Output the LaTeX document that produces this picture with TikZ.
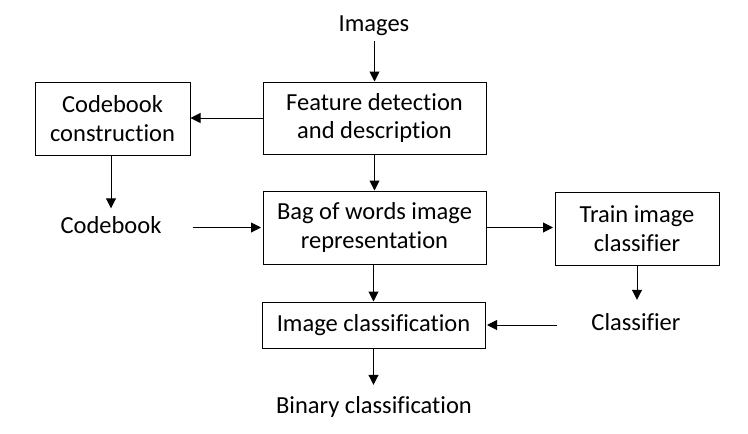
\documentclass[tikz,border=0pt]{standalone}
\usepackage{fontspec}
\setmainfont{Carlito}[Ligatures={NoCommon}]
\usetikzlibrary{arrows.meta,calc}
\begin{document}
\begin{tikzpicture}[x=1pt,y=-1pt,
  every node/.style={font=\fontsize{24.5}{28.5}\selectfont},
  box/.style={draw,line width=1pt,align=center,inner sep=0pt},
  lbl/.style={inner sep=0pt},
  arr/.style={line width=1pt,-{Triangle[length=10pt,width=10pt]}}]
\useasboundingbox (0,0) rectangle (748,434);
\node[box,minimum width=155pt,minimum height=73pt] (cbc) at (112.5,118.5) {Codebook\\construction};
\node[box,minimum width=223pt,minimum height=72pt] (fd) at (374.5,118) {Feature detection\\and description};
\node[box,minimum width=223pt,minimum height=73pt] (bow) at (374.5,227.5) {Bag of words image\\representation};
\node[box,minimum width=164pt,minimum height=73pt] (trn) at (637,228.5) {Train image\\classifier};
\node[box,minimum width=223pt,minimum height=46pt] (ic) at (373.5,325) {Image classification};
\node[lbl,anchor=base] (img) at (374,31) {Images};
\node[lbl,anchor=base] (cbk) at (111,233) {Codebook};
\node[lbl,anchor=base] (cls) at (636,330) {Classifier};
\node[lbl,anchor=base] (bin) at (374,413) {Binary classification};
\draw[arr,shorten <=6pt] (img.south -| fd.north) -- (fd.north);
\draw[arr] (fd.west) -- (cbc.east |- fd.west);
\draw[arr,shorten >=7.5pt] (cbc.south -| cbk.north) -- (cbk.north);
\draw[arr,shorten <=31pt,shorten >=1.5pt] (cbk.east |- bow.west) -- (bow.west);
\draw[arr] (fd.south) -- (bow.north);
\draw[arr,shorten >=1.5pt] (bow.east) -- (trn.west |- bow.east);
\draw[arr,shorten >=13pt] (trn.south) -- (trn.south |- cls.north);
\draw[arr] (bow.south -| ic.north) -- (ic.north);
\draw[arr,shorten <=34pt,shorten >=1.5pt] (cls.west |- ic.east) -- (ic.east);
\draw[arr,shorten >=11pt] (ic.south) -- (ic.south |- bin.north);
\end{tikzpicture}
\end{document}
